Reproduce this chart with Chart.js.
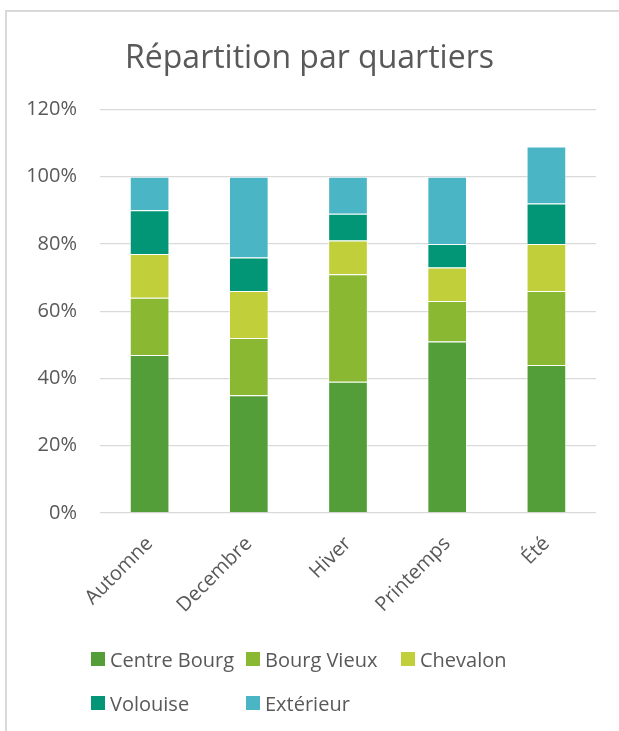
<!DOCTYPE html>
<html>
<head>
<meta charset="utf-8">
<script src="https://cdn.jsdelivr.net/npm/chart.js@4.4.0/dist/chart.umd.min.js"></script>
<style>
  html, body { margin: 0; padding: 0; background: #fff; }
  #wrap { position: relative; width: 619px; height: 731px; overflow: hidden; }
  #frame { position: absolute; left: 5px; top: 10px; width: 630px; height: 740px;
           border-left: 2px solid #d9d9d9; border-top: 2px solid #d9d9d9; box-sizing: border-box; }
  #myChart { position: absolute; left: 0; top: 0; }
  #legend { position: absolute; left: 91px; top: 646px; display: grid;
            grid-template-columns: 155px 155px 155px; row-gap: 18px;
            font-family: "Open Sans", sans-serif; font-size: 20px; color: #595959; }
  .item { display: flex; align-items: center; height: 26px; white-space: nowrap; }
  .box { width: 14px; height: 14px; margin-right: 5px; flex: none; }
</style>
</head>
<body>
<div id="wrap">
  <div id="frame"></div>
  <canvas id="myChart" width="619" height="731"></canvas>
  <div id="legend"></div>
</div>
<script>
// saisons
const saisons = ['Automne', 'Decembre', 'Hiver', 'Printemps', 'Été']

// parts par quartier (%)
const centreBourg = [47, 35, 39, 51, 44]
const bourgVieux = [17, 17, 32, 12, 22]
const chevalon = [13, 14, 10, 10, 14]
const volouise = [13, 10, 8, 7, 12]
const exterieur = [10, 24, 11, 20, 17]

const quartiers = ['Centre Bourg', 'Bourg Vieux', 'Chevalon', 'Volouise', 'Extérieur']
const couleurs = ['#549e39', '#8ab833', '#c0cf3a', '#029676', '#4ab5c4']
const series = [centreBourg, bourgVieux, chevalon, volouise, exterieur]

const yTicks = [0, 20, 40, 60, 80, 100, 120]

try {
    var ctx = document.getElementById('myChart').getContext('2d');

    var myChart = new Chart(ctx, {
        type: 'bar',
        data: {
            labels: saisons,
            datasets: series.map((s, i) => ({
                label: quartiers[i],
                data: s,
                backgroundColor: couleurs[i],
                borderColor: 'rgba(255,255,255,0.7)',
                borderWidth: 1,
                categoryPercentage: 1,
                barPercentage: 0.4
            }))
        },
        options: {
            responsive: false,
            animation: false,
            plugins: {
                legend: {display: false},
                tooltip: {enabled: false},
                title: {
                    display: true,
                    text: 'Répartition par quartiers',
                    font: {family: 'Open Sans', size: 32, weight: 'normal'},
                    color: '#595959',
                    padding: {top: 30, bottom: 31}
                }
            },
            layout: {
                padding: {left: 23, right: 23, top: 10, bottom: 118}
            },
            scales: {
                x: {
                    stacked: true,
                    grid: {display: false},
                    border: {display: false},
                    ticks: {
                        color: '#595959',
                        font: {family: 'Open Sans', size: 20},
                        minRotation: 45,
                        maxRotation: 45,
                        padding: 11
                    },
                    afterFit: (scale) => { scale.height = 100 }
                },
                y: {
                    stacked: true,
                    min: 0,
                    max: 120,
                    afterBuildTicks: (scale) => { scale.ticks = yTicks.map(v => ({value: v})) },
                    grid: {color: '#d9d9d9', lineWidth: 1.3, drawTicks: false},
                    border: {display: false},
                    ticks: {
                        color: '#595959',
                        font: {family: 'Open Sans', size: 20},
                        padding: 23,
                        callback: (v) => v + '%'
                    },
                    afterFit: (scale) => { scale.width = 77 }
                }
            }
        }
    });

    // légende en grille comme dans Excel
    const legend = document.getElementById('legend')
    myChart.data.datasets.forEach((ds) => {
        const item = document.createElement('div')
        item.className = 'item'
        item.innerHTML = '<span class="box" style="background:' + ds.backgroundColor + '"></span>' + ds.label
        legend.appendChild(item)
    })
} catch (error) {
    console.log(error);
}
</script>
</body>
</html>
